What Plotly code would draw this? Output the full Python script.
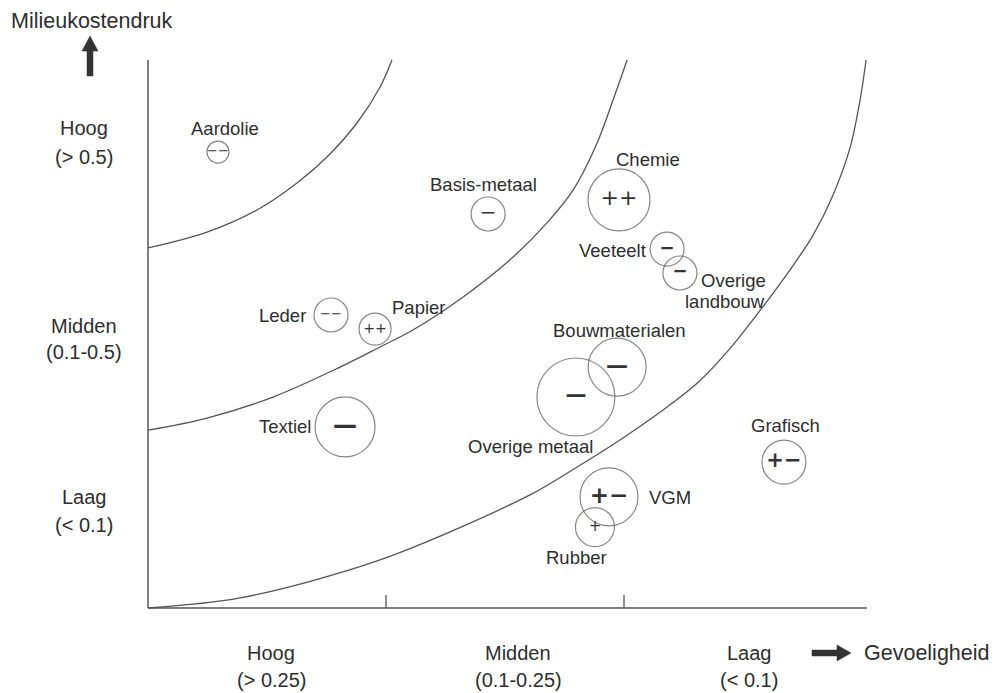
import plotly.graph_objects as go

# ---------------- data ----------------
sectoren = ["Aardolie", "Basis-metaal", "Chemie", "Veeteelt", "Overige landbouw",
            "Leder", "Papier", "Textiel", "Bouwmaterialen", "Overige metaal",
            "VGM", "Rubber", "Grafisch"]
# x: gevoeligheid (0..3, Hoog -> Laag), y: milieukostendruk (0..3, Laag -> Hoog)
gevoeligheid = [0.294, 1.429, 1.979, 2.181, 2.235, 0.769, 0.954, 0.828, 1.971, 1.798, 1.937, 1.878, 2.672]
kostendruk = [2.496, 2.157, 2.234, 1.965, 1.834, 1.604, 1.527, 0.991, 1.319, 1.155, 0.608, 0.443, 0.799]
omvang = [22, 34, 62, 34, 34, 34, 32, 60, 58, 78, 58, 39, 44]
oordeel = ["−−", "−", "++", "<b>−</b>", "<b>−</b>", "−−", "++", "<b>—</b>", "<b>—</b>", "<b>—</b>",
           "<b>+−</b>", "+", "<b>+−</b>"]

# boundary curves
grens1_x = [0.0, 0.248, 0.458, 0.626, 0.752, 0.878, 0.975, 1.025]
grens1_y = [1.971, 2.058, 2.179, 2.327, 2.469, 2.655, 2.852, 3.0]
grens2_x = [0.0, 0.248, 0.525, 0.807, 0.975, 1.113, 1.324, 1.534, 1.676, 1.786, 1.887, 1.954, 2.013]
grens2_y = [0.974, 1.040, 1.155, 1.319, 1.429, 1.522, 1.703, 1.921, 2.108, 2.288, 2.546, 2.781, 3.0]
grens3_x = [0.0, 0.387, 0.975, 1.605, 1.803, 1.983, 2.164, 2.307, 2.445, 2.584, 2.697, 2.794, 2.878, 2.950, 2.992, 3.017]
grens3_y = [0.0, 0.055, 0.263, 0.619, 0.772, 0.920, 1.084, 1.230, 1.420, 1.650, 1.850, 2.040, 2.260, 2.520, 2.781, 3.0]

x_categorie = [("Hoog", "(> 0.25)"), ("Midden", "(0.1-0.25)"), ("Laag", "(< 0.1)")]
y_categorie = [("Hoog", "(> 0.5)"), ("Midden", "(0.1-0.5)"), ("Laag", "(< 0.1)")]
x_titel = "Gevoeligheid"
y_titel = "Milieukostendruk"

# ---------------- layout helpers ----------------
W, H = 995, 693
X0, Y0 = 148, 608          # pixel of origin
SX, SY = 238.0, 182.67     # pixels per unit


def X(px):
    return (px - X0) / SX


def Y(py):
    return (Y0 - py) / SY


FONT = "Liberation Sans, Arial, sans-serif"
TXT = "#2e2e2e"
LINE = "#555555"

fig = go.Figure()

for gx, gy, sm in [(grens1_x, grens1_y, 1.0), (grens2_x, grens2_y, 1.0), (grens3_x, grens3_y, 0.9)]:
    fig.add_trace(go.Scatter(x=gx, y=gy, mode="lines",
                             line=dict(color=LINE, width=1.3, shape="spline", smoothing=sm),
                             hoverinfo="skip", showlegend=False))

symbol_sizes = [13, 20, 22, 18, 18, 13, 14, 24, 22, 21, 23, 15, 21]
fig.add_trace(go.Scatter(
    x=gevoeligheid, y=kostendruk, mode="markers+text",
    marker=dict(size=omvang, color="rgba(0,0,0,0)", line=dict(color=LINE, width=1.2)),
    text=oordeel, textposition="middle center",
    textfont=dict(family="DejaVu Sans", size=symbol_sizes, color="#333333"),
    hoverinfo="skip", showlegend=False, cliponaxis=False))

# sector labels: (dx, dy, anchor)
label_pos = {
    "Aardolie": (7, 24, "center"),
    "Basis-metaal": (-5, 29, "center"),
    "Chemie": (29, 40, "center"),
    "Veeteelt": (-19, -1, "right"),
    "Leder": (-23, 0, "right"),
    "Papier": (15, 22, "left"),
    "Textiel": (-32, 0, "right"),
    "Bouwmaterialen": (2, 37, "center"),
    "Overige metaal": (-45, -49, "center"),
    "VGM": (38, -1, "left"),
    "Rubber": (-18, -30, "center"),
    "Grafisch": (2, 37, "center"),
}
annotations = []
for naam, gx, gy in zip(sectoren, gevoeligheid, kostendruk):
    if naam == "Overige landbouw":
        for t, dx, dy in [("Overige", 88, -8), ("landbouw", 87, -29)]:
            annotations.append(dict(x=gx, y=gy, xshift=dx, yshift=dy, text=t, showarrow=False,
                                    xanchor="right", yanchor="middle",
                                    font=dict(family=FONT, size=18.5, color=TXT)))
        continue
    dx, dy, anc = label_pos[naam]
    annotations.append(dict(x=gx, y=gy, xshift=dx, yshift=dy, text=naam, showarrow=False,
                            xanchor=anc, yanchor="middle",
                            font=dict(family=FONT, size=18.5, color=TXT)))

# category labels
for (l1, l2), cx in zip(x_categorie, [271, 518, 749]):
    for t, py in [(l1, 653), (l2, 680)]:
        annotations.append(dict(x=X(cx), y=Y(py), text=t, showarrow=False, xanchor="center",
                                yanchor="middle", font=dict(family=FONT, size=20, color=TXT)))
for (l1, l2), (py1, py2) in zip(y_categorie, [(128, 157), (326, 352), (497, 525)]):
    for t, py in [(l1, py1), (l2, py2)]:
        annotations.append(dict(x=X(84), y=Y(py), text=t, showarrow=False, xanchor="center",
                                yanchor="middle", font=dict(family=FONT, size=20, color=TXT)))

annotations.append(dict(x=X(92), y=Y(21), text=y_titel, showarrow=False, xanchor="center",
                        yanchor="middle", font=dict(family=FONT, size=21.5, color=TXT)))
annotations.append(dict(x=X(862), y=Y(653), text=x_titel, showarrow=False, xanchor="left",
                        yanchor="middle", font=dict(family=FONT, size=21.5, color=TXT)))

shapes = []
# axes
shapes.append(dict(type="line", x0=0, y0=0, x1=0, y1=3, line=dict(color=LINE, width=1.5)))
shapes.append(dict(type="line", x0=0, y0=0, x1=X(867), y1=0, line=dict(color=LINE, width=1.5)))
for tx in [1, 2]:
    shapes.append(dict(type="line", x0=tx, y0=0, x1=tx, y1=Y(595), line=dict(color=LINE, width=1.3)))


def poly(pts):
    return "M " + " L ".join(f"{X(a):.5f},{Y(b):.5f}" for a, b in pts) + " Z"


ARROW = "#333333"
# up arrow
shapes.append(dict(type="path", path=poly([(87, 76), (93, 76), (93, 51), (98, 51), (90, 36), (82, 51), (87, 51)]),
                   fillcolor=ARROW, line=dict(color=ARROW, width=0.5)))
# right arrow
shapes.append(dict(type="path", path=poly([(812, 650), (837, 650), (837, 645), (851, 653), (837, 661), (837, 656), (812, 656)]),
                   fillcolor=ARROW, line=dict(color=ARROW, width=0.5)))

fig.update_layout(
    width=W, height=H, margin=dict(l=0, r=0, t=0, b=0),
    paper_bgcolor="white", plot_bgcolor="white",
    xaxis=dict(range=[X(0), X(W)], visible=False, fixedrange=True),
    yaxis=dict(range=[Y(H), Y(0)], visible=False, fixedrange=True),
    annotations=annotations, shapes=shapes, showlegend=False,
)

fig.write_html("out.html", post_script="document.body.style.margin='0';",
               config={"displayModeBar": False})
